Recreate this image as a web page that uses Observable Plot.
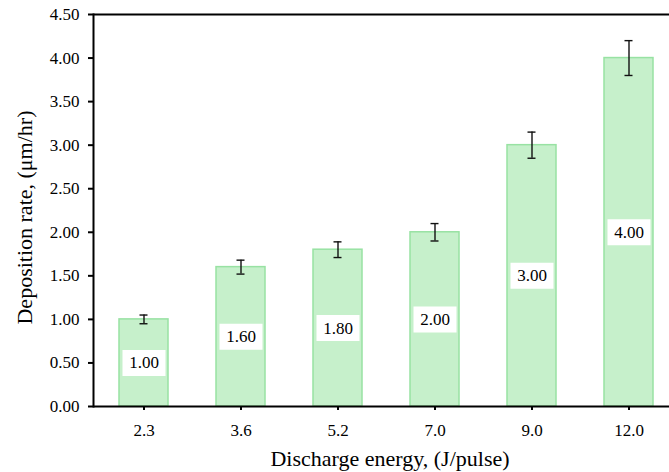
<!DOCTYPE html>
<html>
<head>
<meta charset="utf-8">
<script src="https://cdn.jsdelivr.net/npm/d3@7"></script>
<script src="https://cdn.jsdelivr.net/npm/@observablehq/plot@0.6"></script>
<style>
  html, body { margin: 0; padding: 0; background: white; overflow: hidden; }
</style>
</head>
<body>
<div id="chart"></div>
<script>
const categories = ["2.3", "3.6", "5.2", "7.0", "9.0", "12.0"];
const rates = [1.00, 1.60, 1.80, 2.00, 3.00, 4.00];
const errors = [0.05, 0.08, 0.09, 0.10, 0.15, 0.20];
const yTicks = [0, 0.5, 1, 1.5, 2, 2.5, 3, 3.5, 4, 4.5];
const xTitle = "Discharge energy, (J/pulse)";
const yTitle = "Deposition rate, (μm/hr)";

const data = categories.map((c, i) => ({cat: c, rate: rates[i], err: errors[i]}));

const box = {draw(ctx) { ctx.rect(-21.5, -13, 43, 26); }};

const chart = Plot.plot({
  width: 669,
  height: 472,
  marginLeft: 93,
  marginRight: -11,
  marginTop: 14,
  marginBottom: 66,
  style: {fontFamily: "'Liberation Serif', 'Times New Roman', serif", fontSize: "17px", color: "black", background: "white", overflow: "visible"},
  x: {domain: categories, paddingInner: 0.49, paddingOuter: 0.245},
  y: {domain: [0, 4.5]},
  marks: [
    Plot.barY(data, {x: "cat", y: "rate", fill: "#c6f0cb", stroke: "#98e2a3", strokeWidth: 1.5}),
    Plot.ruleX(data, {x: "cat", y1: d => d.rate - d.err, y2: d => d.rate + d.err, stroke: "#111", strokeWidth: 1.4}),
    Plot.tickY(data, {x: "cat", y: d => d.rate + d.err, insetLeft: 20.5, insetRight: 20.5, stroke: "#111", strokeWidth: 1.4}),
    Plot.tickY(data, {x: "cat", y: d => d.rate - d.err, insetLeft: 20.5, insetRight: 20.5, stroke: "#111", strokeWidth: 1.4}),
    Plot.dot(data, {x: "cat", y: d => d.rate / 2, symbol: box, fill: "white", stroke: null, r: 10}),
    Plot.text(data, {x: "cat", y: d => d.rate / 2, text: d => d.rate.toFixed(2), fontSize: 17, fill: "black"}),
    Plot.ruleY([0, 4.5], {stroke: "black", strokeWidth: 2}),
    Plot.frame({anchor: "left", stroke: "black", strokeWidth: 2}),
    Plot.axisY({ticks: yTicks, tickFormat: d => d.toFixed(2), tickSize: 5, tickPadding: 9, strokeWidth: 2, fontSize: 17, label: null}),
    Plot.axisX({tickSize: 4, tickPadding: 13, strokeWidth: 2, fontSize: 17, label: null}),
    Plot.text([yTitle], {text: d => d, frameAnchor: "left", rotate: -90, dx: -69, dy: 7, fontSize: 22, textAnchor: "middle", lineAnchor: "middle", fill: "black"}),
    Plot.text([xTitle], {text: d => d, frameAnchor: "bottom", dx: 3, dy: 52, fontSize: 22, textAnchor: "middle", lineAnchor: "middle", fill: "black"})
  ]
});
document.getElementById("chart").appendChild(chart);
</script>
</body>
</html>
